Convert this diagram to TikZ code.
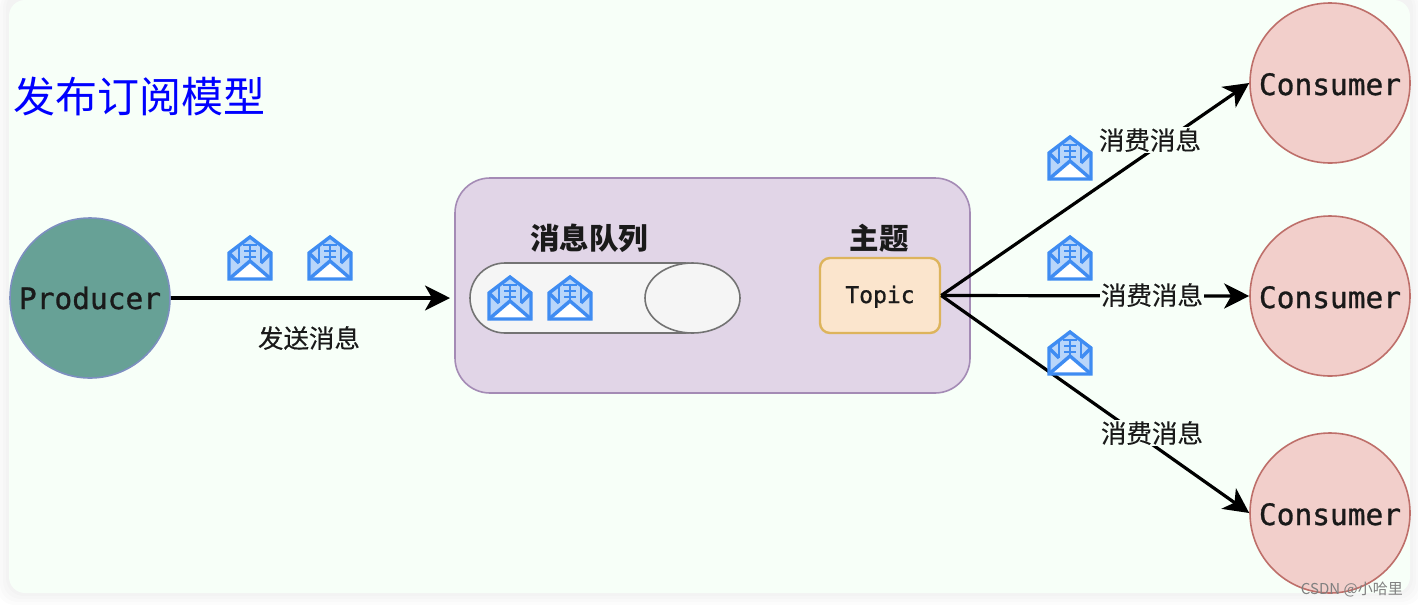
\documentclass[tikz,border=0pt]{standalone}
\usepackage{fontspec}
\newfontfamily\cjk{Noto Sans CJK SC}
\newfontfamily\cjkm[FakeBold=0.25]{Noto Sans CJK SC}
\newfontfamily\monof[FakeBold=1]{DejaVu Sans Mono}
\usetikzlibrary{arrows.meta,shapes.geometric}
\definecolor{pagebg}{HTML}{F7FFF8}
\definecolor{envblue}{HTML}{3F8CF2}
\definecolor{envtint}{HTML}{B9D6FA}
\definecolor{consfill}{HTML}{F2CFCB}
\definecolor{consline}{HTML}{BE6F6A}
\definecolor{prodfill}{HTML}{67A196}
\definecolor{prodline}{HTML}{7D8FC0}
\definecolor{boxfill}{HTML}{E1D5E7}
\definecolor{boxline}{HTML}{A48BB5}
\definecolor{topfill}{HTML}{FBE5CD}
\definecolor{topline}{HTML}{DDB45C}
\definecolor{txt}{HTML}{1A1A1A}
\tikzset{
  x=1pt,y=-1pt,
  actor/.style={circle,minimum size=160pt,inner sep=0pt,line width=1.6pt,font=\monof\fontsize{29.5}{30}\selectfont,text=txt},
  consumer/.style={actor,draw=consline,fill=consfill,text height=24pt,text depth=0pt},
  producer/.style={actor,draw=prodline,fill=prodfill},
  flow/.style={draw=black,line width=3.2pt,-{Stealth[length=25pt,width=25pt,inset=7pt]}},
  caption/.style={font=\cjkm\fontsize{25.5}{26}\selectfont,text=txt,inner sep=1pt},
  flowlabel/.style={caption,fill=pagebg},
  heading/.style={font=\cjk\bfseries\fontsize{29.5}{30}\selectfont,text=txt,inner sep=0pt},
  envelope/.pic={
    \begin{scope}[line width=3.4pt,draw=envblue,line join=miter]
      \fill[envtint] (-21,21)--(-21,-5)--(0,-21)--(21,-5)--(21,21)--cycle;
      \fill[white] (-20,21)--(0,4)--(20,21)--cycle;
      \draw (-21,21)--(-21,-5)--(0,-21)--(21,-5)--(21,21)--cycle;
      \draw (-21,21)--(0,3)--(21,21);
      \draw (-21,-5)--(-11,5) (21,-5)--(11,5);
      \draw[line width=2.6pt] (-11,-14)--(-11,5) (11,-14)--(11,5);
      \draw[line width=2.2pt] (-7,-13)--(7,-13) (-6,-7)--(6,-7) (-6,-1)--(6,-1) (0,-13)--(0,2);
    \end{scope}
  }
}
\begin{document}
\begin{tikzpicture}
\useasboundingbox (0,0) rectangle (1418,606);
\fill[white] (0,0) rectangle (1418,606);
\foreach \e in {12,9,6,3}{
  \fill[black,opacity=0.012,rounded corners=18pt] (9-\e,-10) rectangle (1410+\e,593+\e);
}
\fill[pagebg,rounded corners=16pt] (9,0) rectangle (1410,593);

\node[anchor=west,inner sep=0pt,text=blue,font=\cjk\fontsize{42}{42}\selectfont] (title) at (13,97) {发布订阅模型};

\node[producer] (prod) at (90,298) {Producer};
\node[consumer] (c1) at (1330,83) {Consumer};
\node[consumer] (c2) at (1330,296) {Consumer};
\node[consumer] (c3) at (1330,513) {Consumer};

\node[draw=boxline,fill=boxfill,rounded corners=35pt,line width=1.6pt,minimum width=515pt,minimum height=215pt,inner sep=0pt] (broker) at (712.5,285.5) {};
\node[draw=topline,fill=topfill,rounded corners=10pt,line width=2.4pt,minimum width=120pt,minimum height=75pt,inner sep=0pt,text=txt,text height=16pt,text depth=1pt,font=\monof\fontsize{23}{23}\selectfont] (topic) at (880,295.5) {Topic};

\node[draw=black!55,fill=black!4,line width=1.6pt,rounded corners=35pt,minimum width=250pt,minimum height=70pt,inner sep=0pt] (queue) at (595,298) {};
\node[draw=black!55,fill=black!4,line width=1.6pt,ellipse,minimum width=95pt,minimum height=70pt,inner sep=0pt] (queueend) at (692.5,298) {};

\node[heading] (qlabel) at (589,238) {消息队列};
\node[heading] (tlabel) at (879,238) {主题};

\coordinate (brokerin) at (450,298);
\draw[flow] (prod) -- (brokerin);
\draw[flow] (topic.east) -- (c1.west);
\draw[flow] (topic.east) -- (c2.west);
\draw[flow] (topic.east) -- (c3.west);

\node[caption] (send) at (309,338) {发送消息};
\node[flowlabel] (l1) at (1150,140) {消费消息};
\node[flowlabel] (l2) at (1152,295) {消费消息};
\node[flowlabel] (l3) at (1152,433) {消费消息};

\pic at (250,258) {envelope};
\pic at (330,258) {envelope};
\pic at (510,298) {envelope};
\pic at (570,298) {envelope};
\pic at (1070,158) {envelope};
\pic at (1070,258) {envelope};
\pic at (1070,353) {envelope};

\node[font=\cjk\fontsize{15}{15}\selectfont,text=black!50,anchor=east,inner sep=0pt] (mark) at (1403,590) {CSDN @小哈里};
\end{tikzpicture}
\end{document}
